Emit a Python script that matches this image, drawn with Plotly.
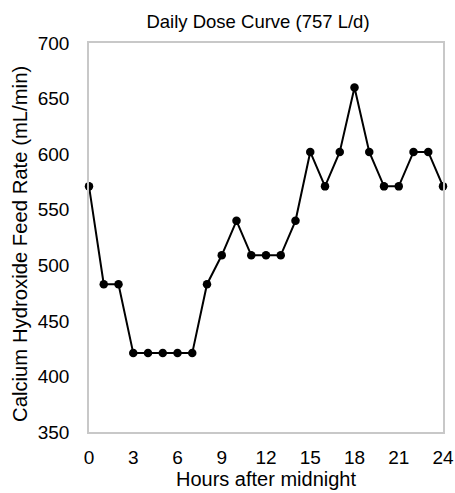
import plotly.graph_objects as go

hours = list(range(0, 25))
feed_rate = [571, 483, 483, 421, 421, 421, 421, 421, 483, 509, 540, 509, 509, 509,
             540, 602, 571, 602, 660, 602, 571, 571, 602, 602, 571]
x_ticks = [0, 3, 6, 9, 12, 15, 18, 21, 24]
y_ticks = [350, 400, 450, 500, 550, 600, 650, 700]

fig = go.Figure()
fig.add_trace(go.Scatter(
    x=hours, y=feed_rate, mode="lines+markers",
    line=dict(color="black", width=2),
    marker=dict(color="black", size=8.5),
    showlegend=False, cliponaxis=False,
))

W, H = 455, 493
L, R, T, B = 89, 12, 43, 61
font = "Liberation Sans, Arial, sans-serif"
fig.update_layout(
    width=W, height=H,
    margin=dict(l=L, r=R, t=T, b=B, autoexpand=False),
    plot_bgcolor="white", paper_bgcolor="white",
    font=dict(family=font, color="black"),
    title=dict(text="Daily Dose Curve (757 L/d)", x=258 / W, xanchor="center",
               xref="container", y=1 - 22 / H, yanchor="middle", font=dict(size=18.5)),
)
fig.update_xaxes(
    range=[0, 24], tickvals=x_ticks, showgrid=False, zeroline=False,
    ticks="outside", ticklen=7, tickcolor="rgba(0,0,0,0)",
    showline=True, linecolor="#c8c8c8", linewidth=1.5, mirror=True,
    tickfont=dict(size=19), automargin=False,
    title=dict(text="Hours after midnight", font=dict(size=20), standoff=0),
)
fig.update_yaxes(
    range=[350, 700], tickvals=y_ticks, showgrid=False, zeroline=False,
    ticks="outside", ticklen=14, tickcolor="rgba(0,0,0,0)",
    showline=True, linecolor="#c8c8c8", linewidth=1.5, mirror=True,
    tickfont=dict(size=19), automargin=False,
)
plot_w = W - L - R
plot_h = H - T - B
fig.add_annotation(
    text="Calcium Hydroxide Feed Rate (mL/min)", textangle=-90,
    xref="paper", yref="paper", x=(20 - L) / plot_w, y=(H - B - 244) / plot_h,
    xanchor="center", yanchor="middle", showarrow=False, font=dict(size=20.3),
)
fig.write_html(
    "out.html",
    config={"displayModeBar": False},
    post_script="document.body.style.margin='0';document.body.style.overflow='hidden';",
)
